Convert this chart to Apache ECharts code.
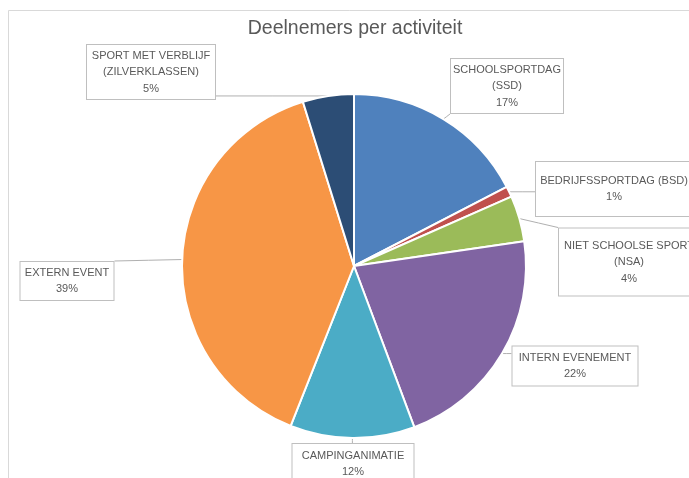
<!DOCTYPE html>
<html>
<head>
<meta charset="utf-8">
<script src="https://cdn.jsdelivr.net/npm/echarts@6/dist/echarts.min.js"></script>
<style>
html,body{margin:0;padding:0;background:#fff;}
#chart{width:689px;height:478px;}
</style>
</head>
<body>
<div id="chart"></div>
<script>
const titleText = 'Deelnemers per activiteit';
const categories = [
  'SCHOOLSPORTDAG\n(SSD)',
  'BEDRIJFSSPORTDAG (BSD)',
  'NIET SCHOOLSE SPORT\n(NSA)',
  'INTERN EVENEMENT',
  'CAMPINGANIMATIE',
  'EXTERN EVENT',
  'SPORT MET VERBLIJF\n(ZILVERKLASSEN)'
];
const values = [17.4, 1.0, 4.3, 21.6, 11.7, 39.2, 4.8];

// styling / layout (kept apart from data)
const colors = ['#4f81bd', '#c0504d', '#9bbb59', '#8064a2', '#4bacc6', '#f79646', '#2c4d75'];
const labelCenters = [[507, 86], [614, 189], [629, 262], [575, 366], [353, 464], [67, 281], [151, 72]];
const labelBoxes = [[112, 54], [156, 54], [140, 67], [125, 39], [121, 40], [93, 38], [128, 54]];

const chart = echarts.init(document.getElementById('chart'), null, {renderer: 'canvas'});

const data = categories.map((c, i) => ({
  name: c,
  value: values[i],
  itemStyle: {color: colors[i]},
  label: {width: labelBoxes[i][0], height: labelBoxes[i][1]}
}));

chart.setOption({
  animation: false,
  backgroundColor: '#fff',
  title: {
    text: titleText,
    left: 350,
    textAlign: 'center',
    top: 14,
    textStyle: {fontFamily: 'Liberation Sans', fontSize: 19.5, fontWeight: 'normal', color: '#595959'}
  },
  graphic: [{
    type: 'rect',
    silent: true,
    shape: {x: 8.5, y: 10.5, width: 720, height: 520},
    style: {fill: 'none', stroke: '#d9d9d9', lineWidth: 1}
  }],
  series: [{
    type: 'pie',
    center: [354, 266],
    radius: 172,
    startAngle: 90,
    clockwise: true,
    avoidLabelOverlap: false,
    itemStyle: {borderColor: '#fff', borderWidth: 2},
    label: {
      show: true,
      position: 'outside',
      formatter: p => p.name + '\n' + Math.round(p.percent) + '%',
      fontFamily: 'Liberation Sans',
      fontSize: 11,
      lineHeight: 16.5,
      color: '#595959',
      backgroundColor: '#fff',
      borderColor: '#bfbfbf',
      borderWidth: 1,
      padding: 0,
      align: 'center',
      verticalAlign: 'middle',
      overflow: 'none'
    },
    labelLine: {show: true, length: 10, length2: 10, lineStyle: {color: '#b0b0b0', width: 1}},
    labelLayout: function (params) {
      const i = params.dataIndex;
      const c = labelCenters[i];
      const w = params.labelRect.width, h = params.labelRect.height;
      const pts = params.labelLinePoints;
      const p0 = pts ? [pts[0][0], pts[0][1]] : [c[0], c[1]];
      const l = c[0] - w / 2, r = c[0] + w / 2, t = c[1] - h / 2, b = c[1] + h / 2;
      const ex = Math.min(Math.max(p0[0], l), r);
      const ey = Math.min(Math.max(p0[1], t), b);
      return {
        x: c[0],
        y: c[1],
        align: 'center',
        verticalAlign: 'middle',
        labelLinePoints: [p0, [(p0[0] + ex) / 2, (p0[1] + ey) / 2], [ex, ey]]
      };
    },
    data: data
  }]
});
</script>
</body>
</html>
